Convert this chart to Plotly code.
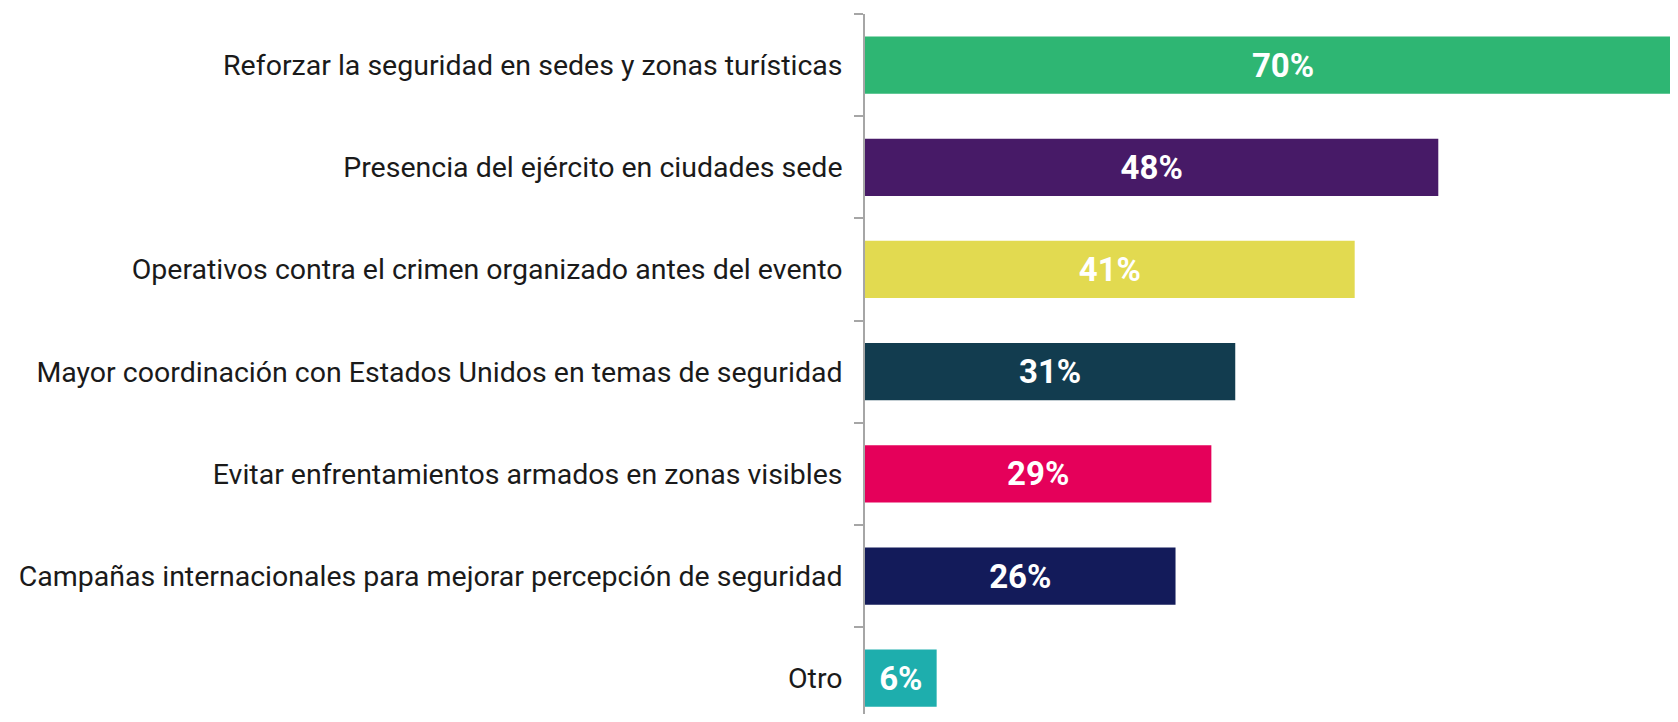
import plotly.graph_objects as go

categories = [
    "Reforzar la seguridad en sedes y zonas turísticas",
    "Presencia del ejército en ciudades sede",
    "Operativos contra el crimen organizado antes del evento",
    "Mayor coordinación con Estados Unidos en temas de seguridad",
    "Evitar enfrentamientos armados en zonas visibles",
    "Campañas internacionales para mejorar percepción de seguridad",
    "Otro",
]
values = [70, 48, 41, 31, 29, 26, 6]
colors = ["#2eb673", "#471a67", "#e2da50", "#123c4f", "#e5005a", "#131b5a", "#1eaead"]
labels = [f"{v}%" for v in values]

fig = go.Figure(go.Bar(
    y=categories, x=values, orientation="h",
    marker=dict(color=colors, line=dict(width=0)),
    width=0.56,
    text=labels, textposition="inside", insidetextanchor="middle",
    textfont=dict(family="Roboto", size=33, color="white", weight="bold"),
    constraintext="none",
    cliponaxis=True,
    hoverinfo="skip",
))

fig.update_layout(
    width=1662, height=706,
    margin=dict(l=857, r=0, t=6, b=0),
    plot_bgcolor="white", paper_bgcolor="white",
    showlegend=False,
    uniformtext=dict(mode=False),
)
fig.update_xaxes(range=[0, 67.4], visible=False, showgrid=False, zeroline=False)
fig.update_yaxes(
    categoryorder="array", categoryarray=categories,
    range=[6.35, -0.5],
    showline=True, linecolor="#a6a6a6", linewidth=1.5,
    ticks="outside", ticklen=9, tickcolor="#a6a6a6", tickwidth=1.5,
    tickson="boundaries",
    ticklabelstandoff=15,
    tickfont=dict(family="Roboto", size=28.5, color="#1a1a1a"),
    showgrid=False, zeroline=False,
)

fig.write_html("out.html")
